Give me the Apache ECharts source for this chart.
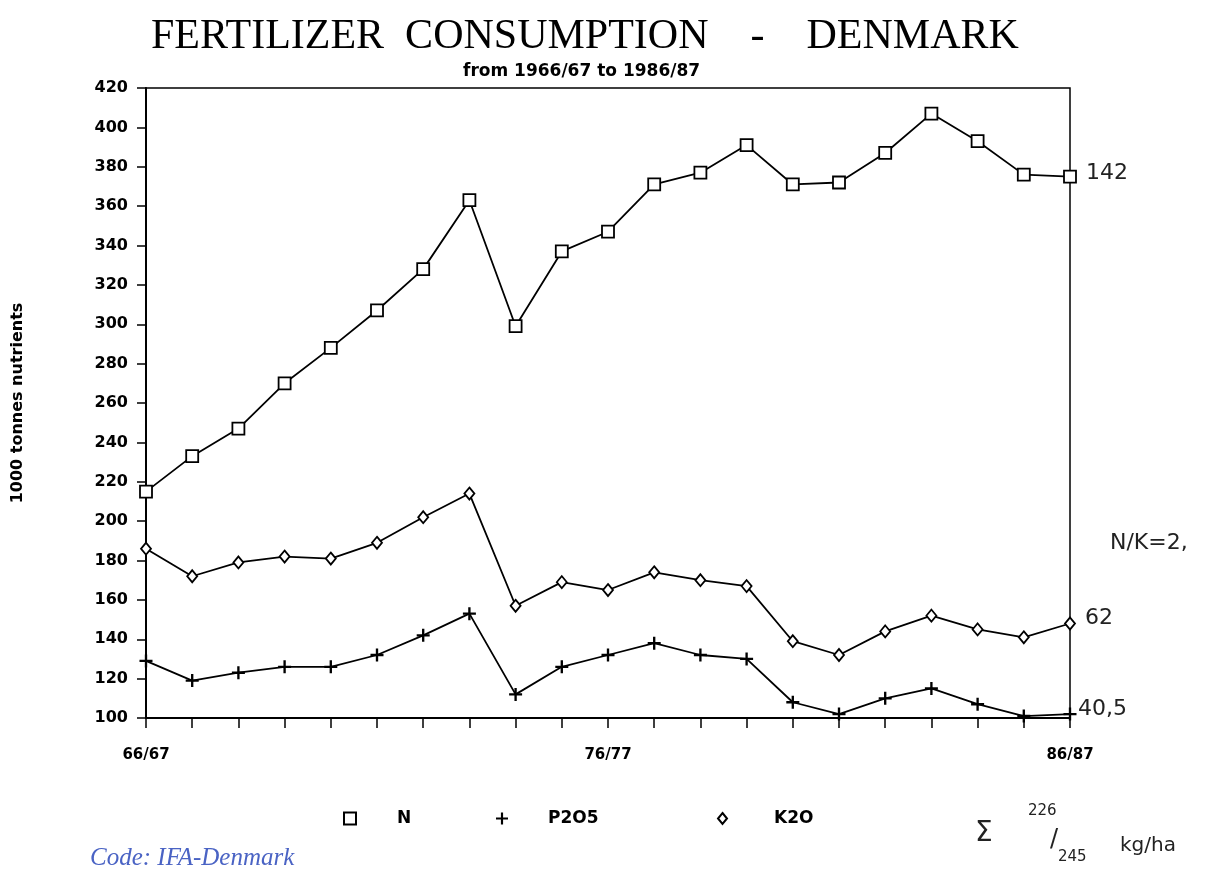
<!DOCTYPE html>
<html>
<head>
<meta charset="utf-8">
<script src="https://cdn.jsdelivr.net/npm/echarts@6/dist/echarts.min.js"></script>
<style>
  html, body { margin: 0; padding: 0; background: #fff; }
  #chart { width: 1217px; height: 884px; }
</style>
</head>
<body>
<div id="chart"></div>
<script>
// crop years 1966/67 .. 1986/87
var years = ['66/67', '67/68', '68/69', '69/70', '70/71', '71/72', '72/73', '73/74', '74/75', '75/76',
  '76/77', '77/78', '78/79', '79/80', '80/81', '81/82', '82/83', '83/84', '84/85', '85/86', '86/87'];
// 1000 tonnes nutrients
var nValues = [215, 233, 247, 270, 288, 307, 328, 363, 299, 337, 347, 371, 377, 391, 371, 372, 387, 407, 393, 376, 375];
var p2o5Values = [129, 119, 123, 126, 126, 132, 142, 153, 112, 126, 132, 138, 132, 130, 108, 102, 110, 115, 107, 101, 102];
var k2oValues = [186, 172, 179, 182, 181, 189, 202, 214, 157, 169, 165, 174, 170, 167, 139, 132, 144, 152, 145, 141, 148];

var yMin = 100, yMax = 420, yStep = 20;

var plusPath = 'path://M4.1,0 H5.9 V4.1 H10 V5.9 H5.9 V10 H4.1 V5.9 H0 V4.1 H4.1 Z';
var boldFont = 'DejaVu Sans';
var hand = { fontFamily: 'DejaVu Sans', fontSize: 22, fill: '#222' };
var legendText = { fontFamily: boldFont, fontSize: 17, fontWeight: 'bold', color: '#000' };

var chart = echarts.init(document.getElementById('chart'));

var option = {
  backgroundColor: '#fff',
  animation: false,
  title: [{
    text: 'FERTILIZER  CONSUMPTION    -    DENMARK',
    left: 151, top: 16, padding: 0,
    textStyle: { fontFamily: 'Liberation Serif', fontSize: 42, fontWeight: 'normal', color: '#000' }
  }, {
    text: 'from 1966/67 to 1986/87',
    left: 463, top: 63, padding: 0,
    textStyle: { fontFamily: boldFont, fontSize: 17, fontWeight: 'bold', color: '#000' }
  }],
  grid: {
    left: 146, right: 147, top: 88, bottom: 166,
    show: true, borderColor: '#000', borderWidth: 1.5
  },
  // one legend per entry so each sits where the print has it
  legend: [{
    left: 338, top: 805, itemWidth: 12, itemHeight: 12,
    textStyle: Object.assign({ padding: [0, 0, 0, 36] }, legendText),
    data: [{ name: 'N', icon: 'rect' }]
  }, {
    left: 491, top: 805, itemWidth: 12, itemHeight: 12,
    textStyle: Object.assign({ padding: [0, 0, 0, 35] }, legendText),
    data: [{ name: 'P2O5', icon: plusPath }]
  }, {
    left: 712, top: 805, itemWidth: 9, itemHeight: 11,
    textStyle: Object.assign({ padding: [0, 0, 0, 42] }, legendText),
    data: [{ name: 'K2O', icon: 'diamond' }]
  }],
  xAxis: {
    type: 'category',
    data: years,
    boundaryGap: false,
    axisLine: { lineStyle: { color: '#000', width: 2 } },
    axisTick: { show: true, interval: 0, length: 10, lineStyle: { color: '#000', width: 1.5 } },
    axisLabel: { interval: 9, margin: 30, color: '#000', fontFamily: boldFont, fontSize: 15, fontWeight: 'bold' },
    splitLine: { show: false }
  },
  yAxis: {
    type: 'value',
    min: yMin, max: yMax, interval: yStep,
    name: '1000 tonnes nutrients',
    nameLocation: 'middle',
    nameGap: 120,
    nameTextStyle: { fontFamily: boldFont, fontSize: 16, fontWeight: 'bold', color: '#000' },
    axisLine: { show: true, lineStyle: { color: '#000', width: 2 } },
    axisTick: { show: true, length: 9, lineStyle: { color: '#000', width: 1.5 } },
    axisLabel: { margin: 18, color: '#000', fontFamily: boldFont, fontSize: 16, fontWeight: 'bold' },
    splitLine: { show: false }
  },
  series: [{
    name: 'N', type: 'line', data: nValues,
    symbol: 'rect', symbolSize: 12,
    lineStyle: { color: '#000', width: 1.8 },
    itemStyle: { color: '#fff', borderColor: '#000', borderWidth: 1.8 }
  }, {
    name: 'P2O5', type: 'line', data: p2o5Values,
    symbol: plusPath, symbolSize: 13,
    lineStyle: { color: '#000', width: 1.8 },
    itemStyle: { color: '#000', borderWidth: 0 }
  }, {
    name: 'K2O', type: 'line', data: k2oValues,
    symbol: 'diamond', symbolSize: [10, 12],
    lineStyle: { color: '#000', width: 1.8 },
    itemStyle: { color: '#fff', borderColor: '#000', borderWidth: 1.8 }
  }],
  graphic: [
    { type: 'text', left: 90, top: 846, style: { text: 'Code: IFA-Denmark', fontFamily: 'Liberation Serif', fontStyle: 'italic', fontSize: 25, fill: '#4a63c4' } },
    // handwritten notes on the print
    { type: 'text', left: 1086, top: 162, style: Object.assign({ text: '142' }, hand) },
    { type: 'text', left: 1085, top: 607, style: Object.assign({ text: '62' }, hand) },
    { type: 'text', left: 1078, top: 698, style: Object.assign({ text: '40,5' }, hand) },
    { type: 'text', left: 1110, top: 532, style: Object.assign({ text: 'N/K=2,' }, hand) },
    { type: 'text', left: 975, top: 820, style: { text: 'Σ', fontFamily: 'DejaVu Sans', fontSize: 28, fill: '#222' } },
    { type: 'text', left: 1028, top: 804, style: { text: '226', fontFamily: 'DejaVu Sans', fontSize: 15, fill: '#222' } },
    { type: 'text', left: 1050, top: 828, style: { text: '/', fontFamily: 'DejaVu Sans', fontSize: 24, fill: '#222' } },
    { type: 'text', left: 1058, top: 850, style: { text: '245', fontFamily: 'DejaVu Sans', fontSize: 15, fill: '#222' } },
    { type: 'text', left: 1120, top: 836, style: { text: 'kg/ha', fontFamily: 'DejaVu Sans', fontSize: 20, fill: '#222' } }
  ]
};

chart.setOption(option);
</script>
</body>
</html>
